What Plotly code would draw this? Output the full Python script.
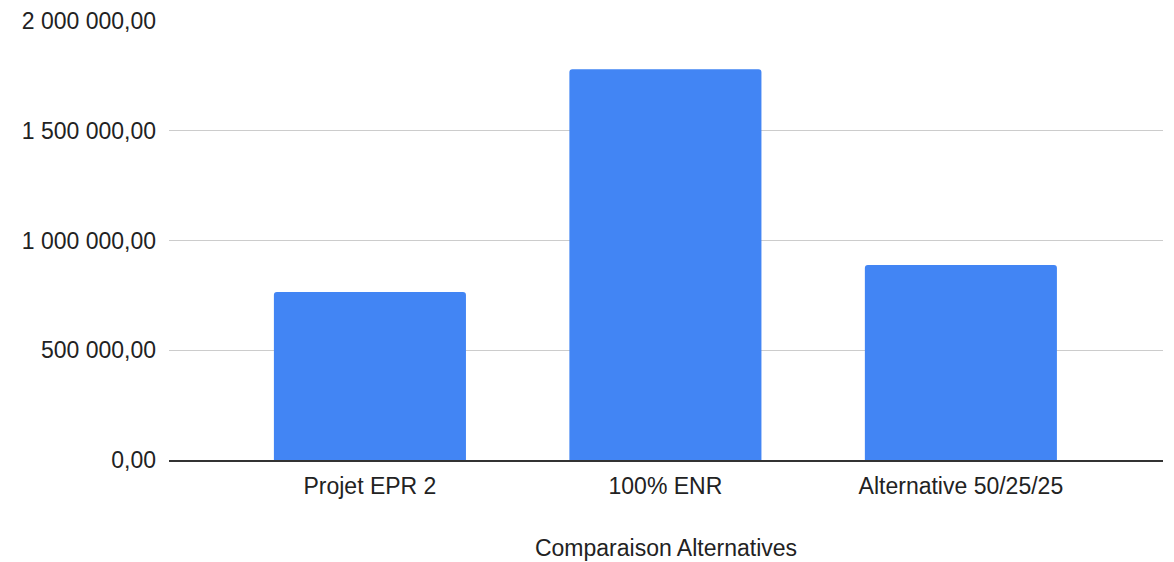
import plotly.graph_objects as go

categories = ["Projet EPR 2", "100% ENR", "Alternative 50/25/25"]
values = [765000, 1780000, 888000]

FONT = "Liberation Sans, Arial, sans-serif"
TEXT = "#222222"
SIZE = 23

fig = go.Figure(
    go.Bar(
        x=[0, 1, 2],
        y=values,
        width=0.65,
        marker=dict(color="#4285F4", cornerradius=3, line=dict(width=0)),
        customdata=categories,
        hovertemplate="%{customdata}: %{y}<extra></extra>",
    )
)

fig.update_layout(
    width=1174,
    height=562,
    margin=dict(l=169, r=11, t=21, b=102),
    paper_bgcolor="white",
    plot_bgcolor="white",
    separators=", ",
    font=dict(family=FONT, size=SIZE, color=TEXT),
    showlegend=False,
    xaxis=dict(
        title=dict(text="Comparaison Alternatives", standoff=42,
                   font=dict(family=FONT, size=SIZE, color=TEXT)),
        automargin=False,
        range=[-0.68, 2.684],
        tickmode="array",
        tickvals=[0, 1, 2],
        ticktext=categories,
        showline=True,
        linecolor="#333333",
        linewidth=1.5,
        showgrid=False,
        zeroline=False,
        ticks="",
        ticklabelstandoff=5,
        tickfont=dict(family=FONT, size=SIZE, color=TEXT),
    ),
    yaxis=dict(
        automargin=False,
        range=[0, 2000000],
        dtick=500000,
        tickformat=",.2f",
        showgrid=True,
        gridcolor="#cccccc",
        gridwidth=1,
        zeroline=False,
        ticks="",
        ticklabelstandoff=12,
        tickfont=dict(family=FONT, size=SIZE, color=TEXT),
    ),
)

fig.write_html("out.html")
